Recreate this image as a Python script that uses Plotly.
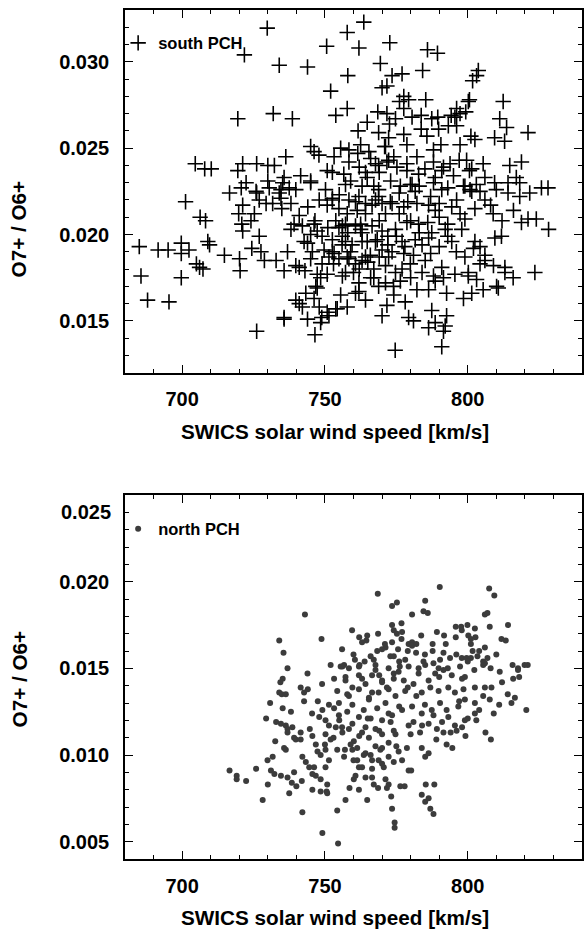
import plotly.graph_objects as go

# ---------------- data ----------------
south_speed = [
    729.8, 721.8, 734.0, 719.5, 731.9, 738.6, 704.6, 707.9, 710.2, 719.5,
    721.2, 726.1, 730.0, 732.3, 736.3, 722.4, 720.7, 730.0, 735.7, 735.2,
    737.5, 739.8, 716.6, 726.1, 734.0, 763.6, 757.8, 750.6, 761.9, 772.7,
    785.9, 789.4, 743.9, 769.4, 758.0, 773.5, 777.0, 784.2, 803.7, 803.1,
    801.7, 752.0, 770.0, 771.7, 777.6, 776.1, 779.3, 777.6, 785.3, 800.6,
    800.2, 812.4, 753.8, 757.8, 768.5, 771.7, 774.7, 780.5, 783.7, 787.4,
    789.5, 794.2, 796.1, 797.3, 799.3, 795.5, 811.2, 813.6, 764.8, 761.6,
    772.6, 768.8, 777.6, 783.7, 785.7, 789.8, 793.2, 796.1, 821.1, 809.4,
    812.9, 772.3, 770.9, 778.7, 788.0, 790.6, 797.3, 801.1, 802.5, 745.0,
    746.2, 747.9, 755.5, 758.4, 762.5, 761.5, 765.4, 771.2, 753.2, 758.4,
    767.7, 771.7, 774.1, 778.7, 782.2, 788.0, 791.5, 793.8, 799.6, 800.6,
    805.4, 814.7, 818.8, 817.0, 741.5, 745.0, 750.8, 752.6, 756.6, 764.2,
    764.8, 768.8, 772.3, 775.2, 778.7, 782.8, 788.6, 790.9, 801.4, 809.4,
    814.1, 818.2, 806.0, 757.2, 750.2, 767.1, 768.8, 776.4, 780.5, 781.6,
    788.0, 790.9, 798.5, 800.8, 804.3, 814.1, 821.7, 825.8, 828.1, 763.0,
    779.9, 799.0, 801.4, 818.2, 796.1, 802.5, 808.9, 818.8, 821.1, 824.0,
    828.3, 752.6, 758.4, 761.9, 764.2, 767.7, 770.0, 772.9, 777.6, 782.2,
    786.3, 788.6, 794.4, 797.3, 753.8, 756.1, 762.5, 762.5, 770.0, 774.7,
    778.7, 782.8, 787.4, 792.1, 794.4, 797.9, 802.5, 804.3, 809.5, 811.8,
    757.2, 764.8, 768.3, 777.0, 781.6, 786.3, 753.2, 758.4, 763.0, 765.9,
    772.3, 777.6, 779.9, 785.1, 790.9, 791.5, 795.5, 800.2, 800.2, 803.1,
    804.3, 806.0, 813.0, 813.0, 815.9, 823.5, 756.1, 757.2, 767.1, 771.2,
    776.4, 782.2, 786.3, 788.6, 792.6, 798.5, 801.4, 805.4, 810.1, 810.7,
    755.5, 760.7, 764.2, 774.1, 778.1, 753.8, 757.8, 751.4, 770.0, 771.7,
    779.3, 781.0, 787.4, 788.6, 786.3, 792.6, 792.1, 791.5, 774.6, 790.9,
    685.0, 691.6, 695.1, 699.7, 699.7, 702.4, 705.0, 706.1, 707.3, 709.0,
    709.6, 701.2, 706.3, 708.2, 685.6, 699.7, 687.9, 695.4, 714.8, 719.8,
    721.2, 720.1, 720.3, 720.9, 721.2, 724.1, 725.3, 725.9, 727.0, 724.4,
    727.6, 728.8, 727.0, 729.4, 732.9, 731.7, 734.6, 734.9, 738.1, 735.7,
    736.9, 739.8, 741.0, 738.1, 739.2, 742.1, 742.7, 743.9, 745.0, 746.2,
    746.5, 747.3, 745.6, 749.7, 751.4, 747.3, 748.5, 750.8, 739.8, 741.0,
    742.1, 743.3, 746.2, 747.3, 746.8, 748.0, 735.7, 735.7, 743.9, 748.5,
    748.9, 750.8, 746.5, 726.1, 754.3, 761.9, 730.5, 734.6, 745.0, 752.6,
    750.8, 754.9, 757.8, 760.7, 761.3, 764.2, 766.5, 768.8, 771.2, 773.5,
    754.9, 757.2, 760.7, 763.0, 766.5, 752.6, 756.1, 759.5, 763.0, 767.7,
    770.0, 773.5, 752.6, 754.9, 757.8, 760.7, 764.2, 767.1, 771.2, 774.7,
    761.9, 766.0, 768.8,
    755.0, 759.0, 762.0, 766.0, 769.0, 773.0, 776.0, 779.0, 783.0, 785.0,
    787.0, 790.0, 793.0, 795.0, 797.0, 803.0, 806.0, 808.0, 810.0, 812.0,
    816.0, 748.0, 744.0, 741.0, 749.0, 751.0, 756.0, 759.0, 762.0, 765.0,
    769.0, 772.0, 775.0, 778.0, 781.0, 784.0, 787.0, 790.0, 793.0, 796.0,
    799.0, 802.0, 806.0, 809.0, 784.0, 788.0, 777.0, 780.0, 774.0, 760.0,
    753.0, 749.0, 745.0, 743.0, 783.0, 786.0, 790.0, 793.0, 799.0, 776.0,
    780.0, 769.0, 772.0, 758.0,
]
south_ratio = [
    0.03195, 0.0304, 0.0298, 0.0267, 0.0270, 0.0267, 0.0241, 0.0238, 0.0238, 0.0237,
    0.0241, 0.0241, 0.0240, 0.0240, 0.0245, 0.0230, 0.0227, 0.0231, 0.0233, 0.0230,
    0.0227, 0.0226, 0.0224, 0.0224, 0.0224, 0.0323, 0.0317, 0.0309, 0.0308, 0.0311,
    0.0307, 0.0305, 0.0297, 0.0299, 0.0292, 0.0292, 0.0293, 0.0295, 0.0295, 0.0292,
    0.0289, 0.0283, 0.0285, 0.0286, 0.0280, 0.0277, 0.0278, 0.0273, 0.0278, 0.0278,
    0.0277, 0.0277, 0.0269, 0.0273, 0.0271, 0.0270, 0.0267, 0.0268, 0.0269, 0.0267,
    0.0268, 0.0269, 0.0273, 0.0270, 0.0271, 0.0268, 0.0267, 0.0262, 0.0265, 0.0260,
    0.0264, 0.0259, 0.0258, 0.0261, 0.0257, 0.0261, 0.0263, 0.0263, 0.0259, 0.0256,
    0.0254, 0.0256, 0.0251, 0.0252, 0.0249, 0.0252, 0.0252, 0.0257, 0.0255, 0.0251,
    0.0248, 0.0246, 0.0250, 0.0249, 0.0252, 0.0247, 0.0248, 0.0251, 0.0245, 0.0242,
    0.0241, 0.0242, 0.0245, 0.0241, 0.0245, 0.0242, 0.0239, 0.0241, 0.0243, 0.0237,
    0.0241, 0.0240, 0.0242, 0.0233, 0.0234, 0.0231, 0.0237, 0.0236, 0.0235, 0.0236,
    0.0233, 0.0240, 0.0243, 0.0239, 0.0237, 0.0235, 0.0233, 0.0237, 0.0238, 0.0230,
    0.0230, 0.0230, 0.0233, 0.0229, 0.0226, 0.0228, 0.0226, 0.0228, 0.0229, 0.0225,
    0.0230, 0.0226, 0.0228, 0.0226, 0.0225, 0.0224, 0.0224, 0.0227, 0.0227, 0.0228,
    0.0229, 0.0228, 0.0225, 0.0222, 0.0220, 0.0215, 0.0212, 0.0207, 0.0209, 0.0209,
    0.0203, 0.0220, 0.0220, 0.0222, 0.0218, 0.0220, 0.0218, 0.0219, 0.0216, 0.0218,
    0.0217, 0.0214, 0.0216, 0.0212, 0.0208, 0.0205, 0.0206, 0.0203, 0.0202, 0.0203,
    0.0207, 0.0206, 0.0201, 0.0203, 0.0196, 0.0203, 0.0196, 0.0193, 0.0198, 0.0199,
    0.0196, 0.0196, 0.0197, 0.0196, 0.0197, 0.0198, 0.0189, 0.0186, 0.0185, 0.0188,
    0.0187, 0.0189, 0.0183, 0.0185, 0.0181, 0.0175, 0.0177, 0.0178, 0.0176, 0.0174,
    0.0183, 0.0185, 0.0181, 0.0178, 0.0175, 0.0178, 0.0176, 0.0178, 0.0175, 0.0172,
    0.0173, 0.0168, 0.0168, 0.0173, 0.0166, 0.0163, 0.0166, 0.0168, 0.0170, 0.0169,
    0.0165, 0.0166, 0.0162, 0.0165, 0.0161, 0.0157, 0.0158, 0.0153, 0.0153, 0.0159,
    0.0152, 0.0150, 0.0156, 0.0149, 0.0146, 0.0153, 0.0147, 0.0144, 0.0133, 0.0135,
    0.0193, 0.0191, 0.0191, 0.0195, 0.0189, 0.0191, 0.0183, 0.0181, 0.0180, 0.0196,
    0.0194, 0.0219, 0.0210, 0.0208, 0.0176, 0.0175, 0.0162, 0.0161, 0.0188, 0.0212,
    0.0217, 0.0186, 0.0179, 0.0206, 0.0202, 0.0208, 0.0212, 0.0225, 0.0199, 0.0192,
    0.0190, 0.0185, 0.0220, 0.0218, 0.0185, 0.0218, 0.0221, 0.0215, 0.0218, 0.0179,
    0.0190, 0.0182, 0.0181, 0.0203, 0.0206, 0.0205, 0.0196, 0.0195, 0.0200, 0.0206,
    0.0208, 0.0202, 0.0190, 0.0191, 0.0187, 0.0177, 0.0175, 0.0177, 0.0162, 0.0160,
    0.0158, 0.0166, 0.0163, 0.0169, 0.0170, 0.0158, 0.0152, 0.0151, 0.0151, 0.0149,
    0.0152, 0.0155, 0.0142, 0.0144, 0.0157, 0.0167, 0.0227, 0.0226, 0.0230, 0.0221,
    0.0217, 0.0215, 0.0212, 0.0219, 0.0214, 0.0212, 0.0217, 0.0222, 0.0212, 0.0218,
    0.0204, 0.0206, 0.0205, 0.0201, 0.0205, 0.0197, 0.0199, 0.0194, 0.0196, 0.0196,
    0.0191, 0.0190, 0.0190, 0.0186, 0.0187, 0.0183, 0.0187, 0.0180, 0.0182, 0.0178,
    0.0172, 0.0175, 0.0170,
    0.0223, 0.0231, 0.0239, 0.0244, 0.0236, 0.0231, 0.0224, 0.0219, 0.0228, 0.0238,
    0.0222, 0.0218, 0.0227, 0.0234, 0.0243, 0.0229, 0.0220, 0.0217, 0.0226, 0.0208,
    0.0214, 0.0220, 0.0216, 0.0211, 0.0199, 0.0204, 0.0194, 0.0190, 0.0180, 0.0184,
    0.0187, 0.0194, 0.0199, 0.0193, 0.0188, 0.0194, 0.0189, 0.0193, 0.0199, 0.0190,
    0.0187, 0.0192, 0.0188, 0.0182, 0.0178, 0.0176, 0.0180, 0.0175, 0.0170, 0.0178,
    0.0183, 0.0183, 0.0186, 0.0179, 0.0201, 0.0207, 0.0210, 0.0206, 0.0209, 0.0212,
    0.0208, 0.0208, 0.0199, 0.0201,
]

north_speed = [
    743.0, 748.8, 768.5, 773.5, 775.2, 780.5, 785.1, 784.5, 786.0, 790.2,
    807.5, 809.3, 806.0, 806.9, 759.5, 763.0, 764.5, 764.8, 768.6, 768.3,
    773.5, 774.1, 775.2, 776.8, 777.0, 776.8, 773.5, 771.2, 770.0, 775.6,
    772.9, 774.1, 779.3, 780.5, 780.5, 781.9, 783.7, 787.7, 787.7, 789.2,
    791.7, 792.3, 791.5, 790.3, 793.8, 795.8, 797.7, 797.9, 799.9, 802.5,
    795.8, 800.2, 801.1, 802.7, 801.1, 801.7, 797.9, 799.6, 801.1, 803.4,
    806.0, 806.9, 805.4, 806.0, 807.7, 811.8, 813.3, 814.1, 815.7, 817.6,
    819.9, 734.0, 735.5, 736.9, 755.5, 756.7, 758.4, 760.5, 762.1, 763.9,
    767.1, 767.7, 776.2, 778.1, 782.8, 784.5, 785.1, 789.8,
    734.4, 735.2, 734.0, 734.9, 736.3, 741.5, 742.7, 742.7, 743.9, 730.8,
    735.2, 729.4, 732.9, 734.6, 736.3, 738.1, 736.9, 736.9, 738.6, 739.2,
    739.8, 741.5, 741.5, 735.7, 736.3, 732.6, 729.9, 731.7, 725.9, 716.6,
    719.1, 719.1, 722.4, 731.1, 732.3, 730.0, 728.2, 734.6, 736.9, 738.4,
    737.5, 740.0, 739.2, 741.9, 742.1, 742.1, 743.3, 744.5, 745.6, 745.6,
    746.8, 748.5, 748.5, 744.7, 745.6, 746.8, 747.4, 748.5, 746.2, 750.2,
    751.4, 750.2, 752.0, 750.2, 751.4, 750.2, 750.8, 750.6, 750.8, 749.1,
    754.3, 754.6, 757.2, 758.6, 760.1, 760.7, 764.8, 768.6, 767.1, 773.5,
    774.4, 774.4, 771.2, 771.7, 773.2, 770.6, 768.8, 766.5, 764.2, 761.9,
    753.2, 756.1, 757.2, 754.3, 757.8, 759.6, 761.9, 764.2, 766.5, 767.7,
    770.0, 772.3, 774.1, 753.2, 754.9, 757.8, 759.6, 761.9, 763.6, 765.4,
    768.3, 771.2, 773.5, 753.8, 756.1, 758.4, 760.1, 763.0, 765.4, 767.7,
    770.0, 772.3, 774.7, 754.3, 756.7, 759.6, 761.3, 764.2, 766.5, 769.4,
    772.3, 774.1, 751.4, 748.0, 749.1,
    757.2, 761.9, 772.3, 775.8, 779.3, 782.8, 786.3, 788.6, 791.5, 794.4,
    797.3, 799.0, 802.3, 805.4, 811.2, 815.9, 817.6,
    802.5, 806.0, 808.3, 805.4, 807.7, 809.1, 802.5, 799.0, 799.2, 806.2,
    808.1, 815.3, 816.5, 820.5,
    792.6, 794.6, 785.1, 786.3, 788.3, 785.3, 783.9, 786.3, 785.1, 786.9,
    788.0, 779.3, 780.2, 776.4, 777.9,
    772.3, 761.9, 766.5, 777.0, 775.8, 778.7, 783.9, 783.3, 786.3, 789.2,
    791.5, 795.5, 793.2, 796.1, 779.3, 781.0, 774.1, 767.7, 770.0, 763.6,
    761.3,
    759.6, 764.2, 766.0, 770.0, 772.3, 777.0, 780.5, 783.9, 787.4, 790.3,
    792.6, 796.7, 799.0, 802.5,
    754.9, 758.4, 761.9, 765.4, 768.8, 771.7, 774.7, 778.1, 781.0, 783.9,
    786.9, 789.8, 793.2, 795.5, 798.5, 763.0, 766.5, 770.0, 774.1, 777.6,
    745.5, 747.5, 744.0, 749.0, 752.0, 756.0, 760.0, 762.0, 766.0, 769.0,
    771.0, 776.0, 779.0, 782.0, 785.0, 788.0, 790.0, 793.0, 796.0, 798.0,
    800.0, 804.0, 808.0, 810.0, 812.0, 814.0, 811.0, 804.0, 800.0, 797.0,
    791.0, 788.0, 785.0, 782.0, 779.0, 776.0, 773.0, 769.0, 765.0, 762.0,
    759.0, 756.0, 753.0, 750.0, 755.0, 757.0, 760.0, 763.0, 766.0, 770.0,
    775.0, 780.0, 784.0, 789.0, 794.0, 798.0, 803.0, 818.0, 821.0,
]
north_ratio = [
    0.0181, 0.0167, 0.0193, 0.0186, 0.0188, 0.0181, 0.0189, 0.0183, 0.0182, 0.0197,
    0.0196, 0.0192, 0.0181, 0.0182, 0.0172, 0.0165, 0.0166, 0.0169, 0.0170, 0.0160,
    0.0175, 0.0172, 0.0170, 0.0176, 0.0171, 0.0167, 0.0165, 0.0162, 0.0161, 0.0161,
    0.0157, 0.0157, 0.0164, 0.0165, 0.0163, 0.0159, 0.0169, 0.0164, 0.0160, 0.0171,
    0.0169, 0.0164, 0.0159, 0.0155, 0.0156, 0.0174, 0.0174, 0.0172, 0.0175, 0.0173,
    0.0168, 0.0169, 0.0167, 0.0168, 0.0164, 0.0160, 0.0156, 0.0156, 0.0156, 0.0157,
    0.0162, 0.0156, 0.0154, 0.0153, 0.0174, 0.0167, 0.0166, 0.0175, 0.0152, 0.0150,
    0.0152, 0.0166, 0.0159, 0.0150, 0.0151, 0.0152, 0.0150, 0.0155, 0.0152, 0.0154,
    0.0155, 0.0152, 0.0151, 0.0155, 0.0150, 0.0154, 0.0152, 0.0150,
    0.0142, 0.0144, 0.0136, 0.0135, 0.0135, 0.0139, 0.0136, 0.0131, 0.0147, 0.0130,
    0.0127, 0.0121, 0.0119, 0.0118, 0.0117, 0.0125, 0.0115, 0.0113, 0.0116, 0.0110,
    0.0109, 0.0113, 0.0109, 0.0104, 0.0103, 0.0108, 0.0097, 0.0099, 0.0092, 0.0091,
    0.0088, 0.0086, 0.0085, 0.0091, 0.0089, 0.0083, 0.0074, 0.0088, 0.0087, 0.0084,
    0.0078, 0.0082, 0.0090, 0.0085, 0.0067, 0.0099, 0.0096, 0.0093, 0.0089, 0.0080,
    0.0088, 0.0079, 0.0086, 0.0115, 0.0111, 0.0106, 0.0102, 0.0100, 0.0093, 0.0120,
    0.0117, 0.0112, 0.0109, 0.0103, 0.0097, 0.0093, 0.0083, 0.0079, 0.0078, 0.0055,
    0.0068, 0.0049, 0.0074, 0.0081, 0.0086, 0.0088, 0.0074, 0.0081, 0.0083, 0.0069,
    0.0061, 0.0058, 0.0086, 0.0081, 0.0076, 0.0093, 0.0097, 0.0092, 0.0087, 0.0093,
    0.0144, 0.0151, 0.0143, 0.0137, 0.0135, 0.0139, 0.0146, 0.0141, 0.0136, 0.0149,
    0.0143, 0.0138, 0.0147, 0.0127, 0.0123, 0.0125, 0.0129, 0.0122, 0.0126, 0.0132,
    0.0127, 0.0130, 0.0123, 0.0116, 0.0113, 0.0115, 0.0108, 0.0113, 0.0110, 0.0115,
    0.0112, 0.0107, 0.0112, 0.0103, 0.0099, 0.0103, 0.0097, 0.0101, 0.0097, 0.0103,
    0.0099, 0.0096, 0.0129, 0.0122, 0.0126,
    0.0145, 0.0151, 0.0150, 0.0148, 0.0151, 0.0147, 0.0143, 0.0147, 0.0149, 0.0146,
    0.0151, 0.0145, 0.0149, 0.0152, 0.0148, 0.0144, 0.0149,
    0.0139, 0.0139, 0.0139, 0.0134, 0.0132, 0.0124, 0.0124, 0.0120, 0.0111, 0.0113,
    0.0109, 0.0130, 0.0133, 0.0126,
    0.0106, 0.0104, 0.0099, 0.0101, 0.0083, 0.0083, 0.0077, 0.0075, 0.0073, 0.0069,
    0.0066, 0.0091, 0.0091, 0.0082, 0.0082,
    0.0083, 0.0080, 0.0087, 0.0097, 0.0102, 0.0104, 0.0104, 0.0113, 0.0118, 0.0115,
    0.0113, 0.0117, 0.0122, 0.0114, 0.0117, 0.0119, 0.0114, 0.0105, 0.0104, 0.0100,
    0.0104,
    0.0118, 0.0116, 0.0121, 0.0120, 0.0124, 0.0126, 0.0128, 0.0124, 0.0126, 0.0130,
    0.0126, 0.0128, 0.0132, 0.0130,
    0.0130, 0.0134, 0.0138, 0.0133, 0.0136, 0.0139, 0.0134, 0.0137, 0.0141, 0.0136,
    0.0139, 0.0137, 0.0139, 0.0136, 0.0138, 0.0144, 0.0146, 0.0142, 0.0144, 0.0143,
    0.0124, 0.0131, 0.0138, 0.0141, 0.0152, 0.0161, 0.0158, 0.0168, 0.0157, 0.0146,
    0.0164, 0.0154, 0.0160, 0.0164, 0.0158, 0.0153, 0.0145, 0.0150, 0.0158, 0.0144,
    0.0154, 0.0160, 0.0150, 0.0158, 0.0142, 0.0135, 0.0129, 0.0126, 0.0121, 0.0131,
    0.0119, 0.0123, 0.0129, 0.0134, 0.0139, 0.0128, 0.0119, 0.0114, 0.0121, 0.0111,
    0.0106, 0.0116, 0.0110, 0.0106, 0.0120, 0.0103, 0.0097, 0.0093, 0.0100, 0.0095,
    0.0105, 0.0112, 0.0117, 0.0109, 0.0113, 0.0116, 0.0120, 0.0145, 0.0152,
]

x_title = "SWICS solar wind speed [km/s]"
y_title = "O7+ / O6+"
south_label = "south PCH"
north_label = "north PCH"
north_tick_vals = [0.005, 0.010, 0.015, 0.020]
north_tick_text = ["0.005", "0.010", "0.015", "0.020"]

# ---------------- figure ----------------
FONT = "Liberation Sans, Arial, Helvetica, sans-serif"
tickfont = dict(family=FONT, size=20, color="black", weight="bold")
titlefont = dict(family=FONT, size=20.7, color="black", weight="bold")
legend_font = dict(family=FONT, size=16.5, color="black", weight="bold")

fig = go.Figure()
fig.add_trace(go.Scatter(
    x=south_speed, y=south_ratio, mode="markers", name=south_label,
    marker=dict(symbol="cross-thin", size=11, color="black",
                line=dict(width=1.6, color="black")),
    xaxis="x", yaxis="y", legend="legend",
))
fig.add_trace(go.Scatter(
    x=north_speed, y=north_ratio, mode="markers", name=north_label,
    marker=dict(symbol="circle", size=6, color="#3c3c3c", line=dict(width=0)),
    xaxis="x2", yaxis="y2", legend="legend2",
))

common = dict(
    showline=True, linecolor="black", linewidth=1.5, mirror="allticks",
    ticks="inside", ticklen=8, tickwidth=1.3, tickcolor="black",
    showgrid=False, zeroline=False, tickfont=tickfont,
)

def xax(anchor):
    return dict(common, anchor=anchor, domain=[0, 1], range=[680, 840],
                tickmode="linear", tick0=700, dtick=50,
                minor=dict(ticks="inside", ticklen=4, tickwidth=1, tickcolor="black",
                           tickmode="linear", tick0=700, dtick=10, showgrid=False),
                ticklabelstandoff=8)

TOP_DOM = [0.5728, 1.0]
BOT_DOM = [0.0, 0.4287]

# plot area: x 125..584 px, y 10..859 px
def px_x(px):
    return (px - 125) / 459.0

def px_y(py):
    return (859 - py) / 849.0

annotations = [
    dict(text="0.025", xref="paper", yref="y2", x=0, y=0.024,
         xanchor="right", yanchor="middle", xshift=-12, showarrow=False, font=tickfont),
    dict(text=x_title, xref="paper", yref="paper", x=px_x(335.5), y=px_y(431),
         xanchor="center", yanchor="middle", showarrow=False, font=titlefont),
    dict(text=x_title, xref="paper", yref="paper", x=px_x(335.5), y=px_y(917),
         xanchor="center", yanchor="middle", showarrow=False, font=titlefont),
    dict(text=y_title, xref="paper", yref="paper", x=px_x(19), y=px_y(229),
         xanchor="center", yanchor="middle", textangle=-90, showarrow=False, font=titlefont),
    dict(text=y_title, xref="paper", yref="paper", x=px_x(19), y=px_y(679),
         xanchor="center", yanchor="middle", textangle=-90, showarrow=False, font=titlefont),
]

fig.update_layout(
    width=585, height=929,
    margin=dict(l=125, r=1, t=10, b=70),
    paper_bgcolor="white", plot_bgcolor="white",
    showlegend=True,
    xaxis=xax("y"),
    xaxis2=xax("y2"),
    yaxis=dict(common, anchor="x", domain=TOP_DOM, range=[0.012, 0.033],
               tickmode="linear", tick0=0, dtick=0.005, tickformat=".3f",
               minor=dict(ticks="inside", ticklen=4, tickwidth=1, tickcolor="black",
                          tickmode="linear", tick0=0, dtick=0.001, showgrid=False),
               ticklabelstandoff=10),
    yaxis2=dict(common, anchor="x2", domain=BOT_DOM, range=[0.004, 0.025],
                tickmode="array", tickvals=north_tick_vals, ticktext=north_tick_text,
                minor=dict(ticks="inside", ticklen=4, tickwidth=1, tickcolor="black",
                           tickmode="linear", tick0=0, dtick=0.001, showgrid=False),
                ticklabelstandoff=10),
    legend=dict(x=-0.015, y=0.961, xanchor="left", yanchor="middle",
                bgcolor="rgba(0,0,0,0)", borderwidth=0, font=legend_font),
    legend2=dict(x=-0.015, y=0.3887, xanchor="left", yanchor="middle",
                 bgcolor="rgba(0,0,0,0)", borderwidth=0, font=legend_font),
    annotations=annotations,
)

fig.write_html(
    "out.html",
    config={"displayModeBar": False},
    post_script="document.body.style.margin='0';document.body.style.overflow='hidden';",
)
